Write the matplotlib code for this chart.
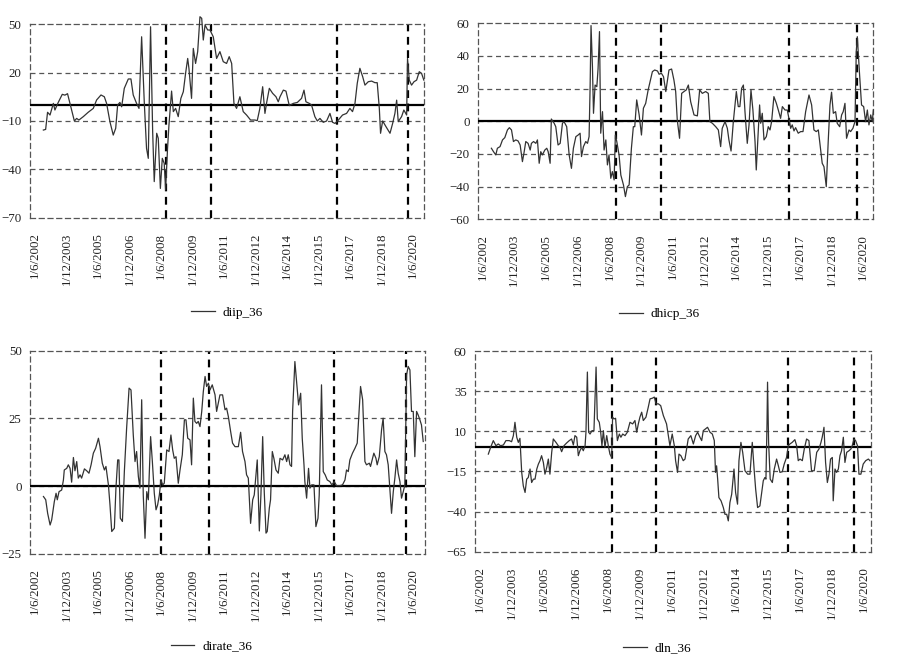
import matplotlib
matplotlib.use("Agg")
import matplotlib.pyplot as plt

plt.rcParams['font.family'] = ['Liberation Serif', 'DejaVu Serif']

# x = month index counted from Jan 2002 (0 = 1/1/2002)
tick_pos = [5 + 18 * i for i in range(13)]
tick_labels = ["1/6/2002", "1/12/2003", "1/6/2005", "1/12/2006", "1/6/2008",
               "1/12/2009", "1/6/2011", "1/12/2012", "1/6/2014", "1/12/2015",
               "1/6/2017", "1/12/2018", "1/6/2020"]

diip_m = [9.8, 11.1, 12.2, 13.6, 15.5, 16.4, 18.3, 20.6, 22.1, 23.6,
          25.0, 26.3, 27.5, 28.8, 30.1, 32.6, 35.4, 38.3, 40.2, 42.7,
          44.6, 45.9, 47.8, 49.7, 51.1, 52.2, 53.5, 54.5, 56.0, 58.3,
          59.8, 61.1, 63.0, 64.4, 65.9, 67.4, 68.7, 69.7, 71.0, 72.2,
          73.1, 74.5, 75.4, 76.6, 77.7, 78.8, 79.6, 80.7, 81.5, 83.0,
          84.0, 85.3, 86.8, 88.3, 89.7, 91.0, 92.2, 92.9, 94.4, 95.4,
          96.7, 97.9, 99.2, 100.2, 101.1, 102.1, 103.6, 104.9, 106.8, 108.7,
          110.6, 112.5, 114.4, 115.9, 117.3, 118.6, 120.1, 122.0, 123.9, 125.8,
          128.1, 130.6, 131.9, 133.4, 135.0, 136.3, 137.2, 138.8, 140.7, 142.6,
          143.9, 144.9, 146.8, 148.3, 150.2, 152.5, 154.8, 157.2, 158.6, 159.7,
          161.6, 162.9, 164.8, 166.2, 167.7, 169.6, 171.5, 173.4, 174.9, 176.3,
          178.2, 180.6, 182.9, 184.8, 186.3, 187.7, 189.0, 190.5, 192.1, 193.4,
          195.3, 197.2, 199.1, 200.4, 201.6, 202.3, 203.5, 205.4, 207.7, 209.2,
          210.5, 211.5, 212.4, 214.3, 215.6, 217.2, 217.7, 218.7, 220.0, 221.4,
          222.9, 224.4, 225.7, 227.0]
diip_v = [-15.6, -15.2, -4.6, -6.3, 0.9, -3.2, 1.5, 6.5, 6.0, 6.9,
          0.9, -4.6, -10.0, -8.4, -9.4, -7.3, -4.6, -2.2, 3.0, 6.1,
          5.0, 0.9, -10.4, -18.7, -14.5, -0.1, 1.5, -1.2, 10.2, 16.0,
          16.0, 6.1, 0.9, -2.2, 42.1, 1.9, -26.9, -33.1, 48.3, -16.6,
          -47.5, -17.6, -20.7, -51.7, -33.1, -36.2, -52.7, -26.9, -12.5, 8.5,
          -4.2, -2.2, -7.3, 4.0, 8.1, 19.5, 28.7, 22.6, 4.0, 34.9,
          25.6, 32.9, 54.5, 53.5, 40.1, 49.4, 46.3, 46.3, 42.1, 28.7,
          32.9, 26.7, 25.6, 29.8, 25.6, 0.9, -2.2, 5.0, -4.2, -6.3,
          -9.4, -9.4, -9.8, -2.2, 11.2, -5.3, 0.9, 10.2, 7.1, 5.0,
          1.9, 5.0, 9.1, 8.5, -0.5, 0.9, 1.5, 4.0, 9.1, 1.9,
          0.9, -0.1, -7.3, -10.0, -8.4, -10.8, -10.0, -5.3, -10.8, -11.5,
          -9.4, -6.3, -5.3, -2.2, -4.2, 0.9, 13.3, 22.6, 17.4, 12.2,
          14.3, 14.7, 13.7, 13.7, -2.2, -17.6, -10.0, -13.5, -17.6, -11.5,
          -5.3, 2.9, -10.4, -7.3, -3.2, -6.3, 28.7, 15.3, 12.2, 14.3,
          15.3, 20.5, 19.5, 15.3]

dhicp_m = [10.1, 11.3, 12.6, 13.5, 15.0, 16.4, 17.7, 19.2, 20.3, 21.5,
           22.6, 23.9, 25.2, 26.4, 27.7, 28.7, 29.6, 30.9, 32.1, 32.8,
           34.0, 35.3, 36.2, 37.2, 38.1, 39.0, 40.4, 41.5, 42.3, 43.4,
           44.1, 45.7, 46.6, 47.9, 49.1, 50.4, 51.3, 52.8, 54.2, 55.5,
           56.6, 58.0, 59.3, 60.4, 61.2, 62.3, 63.6, 64.6, 65.5, 66.1,
           66.6, 67.4, 68.0, 68.9, 69.9, 70.6, 71.4, 72.1, 73.1, 74.0,
           75.0, 75.9, 76.8, 77.8, 78.7, 79.7, 80.4, 81.2, 82.5, 83.5,
           85.0, 86.1, 87.2, 88.2, 89.5, 90.6, 91.4, 92.5, 93.9, 95.2,
           96.3, 97.6, 99.0, 100.1, 101.4, 102.7, 104.3, 105.2, 106.5, 107.7,
           109.0, 110.8, 112.3, 113.6, 114.6, 115.5, 116.8, 118.0, 119.3, 120.6,
           121.8, 123.1, 125.0, 126.9, 128.2, 129.7, 131.6, 133.1, 134.0, 135.4,
           137.3, 138.8, 140.1, 141.0, 142.6, 143.9, 144.8, 146.0, 147.3, 149.0,
           150.1, 151.0, 152.0, 153.0, 153.9, 155.2, 156.2, 157.3, 158.4, 159.6,
           160.3, 161.5, 162.2, 162.8, 163.7, 164.7, 166.0, 167.1, 168.1, 169.0,
           170.3, 171.7, 172.8, 174.1, 175.1, 176.6, 177.9, 178.8, 179.8, 180.7,
           181.7, 182.6, 184.1, 185.5, 186.8, 188.3, 190.2, 191.7, 193.0, 194.3,
           195.5, 196.8, 197.7, 198.7, 200.0, 201.1, 202.1, 203.0, 204.0, 205.3,
           206.2, 207.6, 208.7, 209.6, 210.6, 211.5, 212.9, 213.8, 215.1, 216.3,
           217.0, 217.6, 218.2, 218.9, 220.0, 221.2, 222.3, 223.3, 224.2, 225.2,
           226.1, 226.7]
dhicp_v = [-16.5, -18.6, -20.6, -16.5, -15.5, -11.4, -10.0, -5.3, -3.9, -5.3,
           -12.4, -11.4, -12.0, -14.5, -24.7, -18.6, -12.4, -13.5, -17.6, -13.5,
           -12.4, -13.5, -11.4, -25.7, -18.6, -20.6, -17.6, -16.5, -18.6, -25.7,
           1.4, -1.2, -3.3, -14.5, -13.5, -1.2, -0.2, -3.3, -20.6, -28.8,
           -16.5, -9.4, -8.4, -7.3, -21.6, -15.5, -12.4, -13.5, -9.4, 22.2,
           58.6, 33.5, 4.9, 22.2, 21.2, 32.4, 54.9, -7.3, 5.9, -17.6,
           -11.4, -26.7, -20.6, -34.9, -30.8, -35.9, -8.4, -12.4, -20.6, -32.9,
           -39.0, -46.1, -40.0, -39.0, -16.5, -3.3, -3.3, 13.1, 3.9, -8.4,
           8.0, 11.0, 19.2, 24.3, 30.4, 31.4, 30.8, 28.8, 29.4, 27.3,
           18.2, 31.4, 32.0, 25.3, 18.2, 0.8, -10.4, 17.1, 18.2, 19.2,
           22.2, 12.0, 3.9, 3.3, 19.2, 17.1, 18.2, 17.1, -0.2, -1.2,
           -3.3, -5.3, -15.5, -4.3, -0.2, -4.3, -11.4, -18.2, -0.2, 18.2,
           9.0, 9.0, 20.2, 22.2, 5.9, -13.5, -2.2, 19.2, 6.9, -12.4,
           -29.8, -4.3, 10.0, -1.2, 4.9, -11.4, -9.4, -3.3, -5.3, -0.2,
           15.1, 11.0, 6.9, 1.8, 9.0, 6.9, 6.9, 1.8, -4.3, -2.2,
           -5.9, -3.9, -7.3, -6.3, -6.3, 5.9, 16.1, 10.0, -5.3, -6.3,
           -5.3, -17.6, -25.7, -27.8, -40.0, -12.4, 10.0, 17.8, 4.9, 5.9,
           -1.2, -3.3, 3.9, 5.9, 11.0, -10.4, -5.3, -6.3, -4.3, -0.2,
           42.7, 51.8, 40.6, 28.4, 10.0, 9.0, -0.2, 6.9, -2.2, 3.9,
           -0.2, 6.9]

dirate_m = [9.8, 11.1, 12.2, 13.6, 14.5, 16.0, 17.0, 17.7, 18.7, 20.2,
            21.2, 21.7, 23.1, 24.0, 25.0, 25.9, 26.9, 27.8, 28.8, 29.7,
            30.7, 31.6, 33.2, 34.5, 35.8, 37.0, 38.3, 39.6, 41.2, 42.1,
            43.4, 44.6, 45.5, 46.9, 47.8, 48.8, 50.3, 51.2, 52.2, 52.9,
            53.7, 54.9, 56.0, 57.3, 58.7, 59.8, 61.1, 62.1, 63.0, 64.0,
            64.9, 65.9, 66.8, 67.8, 68.8, 69.7, 71.0, 72.0, 73.1, 74.1,
            75.0, 76.0, 76.9, 77.9, 78.8, 80.2, 81.5, 82.6, 83.6, 84.5,
            85.5, 86.8, 87.8, 89.1, 90.3, 91.2, 92.2, 93.5, 94.4, 95.4,
            96.3, 97.3, 98.2, 99.2, 100.2, 101.1, 102.1, 103.0, 104.0, 104.9,
            106.2, 107.8, 108.7, 110.6, 112.1, 113.5, 114.4, 115.4, 116.7, 117.8,
            119.2, 121.1, 122.4, 123.5, 124.9, 125.8, 126.8, 128.1, 129.3, 130.2,
            131.2, 131.9, 133.1, 134.0, 135.0, 135.9, 136.9, 137.6, 138.8, 139.5,
            140.5, 141.4, 142.6, 143.9, 144.9, 146.4, 147.7, 148.7, 149.6, 150.6,
            151.5, 152.1, 153.4, 154.4, 155.5, 156.7, 157.6, 158.6, 159.1, 160.1,
            161.2, 162.0, 163.0, 164.3, 165.4, 166.6, 167.3, 168.6, 169.6, 170.7,
            171.9, 173.4, 174.5, 175.9, 177.2, 179.1, 180.6, 182.0, 182.9, 183.9,
            184.8, 186.3, 187.7, 189.0, 190.1, 190.9, 192.1, 193.4, 194.3, 195.9,
            196.6, 197.8, 198.5, 199.7, 200.4, 201.6, 202.9, 203.8, 204.8, 205.7,
            206.7, 207.6, 208.6, 209.6, 210.5, 211.5, 212.4, 213.4, 214.3, 215.3,
            216.2, 217.2, 218.1, 219.1, 220.0, 221.0, 221.9, 222.9, 223.8, 224.8,
            225.7, 226.7]
dirate_v = [-3.8, -5.0, -10.0, -14.3, -12.4, -5.7, -2.6, -5.0, -2.0, -1.4,
            2.3, 6.0, 6.6, 7.9, 6.6, 1.5, 10.6, 5.7, 9.1, 3.0,
            4.2, 3.0, 6.4, 5.7, 4.8, 7.9, 12.2, 14.0, 17.7, 14.6,
            8.5, 6.0, 7.3, 0.5, -6.9, -16.7, -15.5, -0.7, 9.7, 9.7,
            -11.8, -13.0, 5.4, 21.4, 36.2, 35.5, 18.9, 9.1, 12.8, 3.6,
            -0.7, 31.9, -3.2, -19.2, -2.0, -5.0, 18.3, 9.1, -2.6, -8.7,
            -6.9, -3.2, 2.3, 0.5, 1.1, 13.4, 12.8, 18.9, 13.4, 10.3,
            10.9, 1.1, 6.0, 11.6, 24.5, 24.5, 17.7, 17.1, 7.9, 32.5,
            23.9, 23.2, 23.9, 22.0, 27.6, 34.9, 40.5, 36.8, 38.0, 35.5,
            37.4, 33.7, 27.6, 33.7, 33.7, 28.2, 28.8, 25.7, 20.2, 15.9,
            14.6, 14.6, 19.9, 12.8, 9.1, 4.2, 3.0, -13.7, -5.0, -3.2,
            4.2, 9.7, -16.5, -3.2, 18.3, -2.0, -17.3, -16.7, -8.1, -5.0,
            12.8, 10.3, 6.0, 4.8, 10.3, 9.7, 11.6, 9.1, 11.6, 7.9,
            7.3, 27.6, 46.0, 38.6, 30.0, 34.3, 17.7, 7.9, 1.7, -4.4,
            6.6, -0.7, 0.5, 0.5, -14.9, -11.8, -3.2, 37.4, 5.4, 4.2,
            2.3, 1.7, 0.5, 1.7, 0.2, 0.2, 0.5, 2.3, 6.0, 5.4,
            9.7, 12.2, 14.0, 15.9, 28.2, 36.8, 31.9, 9.1, 7.9, 8.5,
            7.3, 10.3, 12.2, 10.3, 7.9, 10.9, 20.8, 25.1, 12.8, 11.6,
            7.9, -0.7, -10.0, -2.0, 3.0, 9.7, 4.8, 1.7, -4.4, -2.0,
            0.5, 41.1, 44.2, 42.9, 27.6, 27.6, 10.9, 27.6, 26.3, 24.5,
            22.6, 16.5]

dln_m = [9.7, 11.0, 12.5, 14.0, 15.3, 16.6, 18.2, 19.6, 21.5, 22.8,
         23.8, 24.7, 25.7, 26.6, 27.5, 28.5, 29.4, 30.4, 31.3, 32.2,
         33.2, 34.1, 35.1, 36.0, 37.0, 37.9, 38.8, 39.7, 40.7, 41.6,
         42.6, 43.5, 44.4, 45.4, 46.3, 47.8, 49.1, 50.1, 51.0, 52.3,
         53.8, 55.3, 56.6, 57.6, 58.5, 59.5, 60.4, 61.3, 62.3, 63.2,
         64.2, 64.7, 65.5, 66.2, 67.0, 68.1, 69.2, 70.4, 71.1, 72.2,
         73.0, 73.7, 74.5, 75.4, 76.4, 77.3, 78.2, 79.2, 79.7, 80.5,
         81.4, 82.4, 83.5, 84.4, 85.4, 86.7, 88.0, 89.5, 91.0, 92.3,
         93.3, 94.2, 95.1, 96.1, 97.0, 98.5, 99.8, 100.8, 102.1, 103.2,
         104.2, 105.5, 106.8, 108.3, 110.1, 111.1, 112.0, 113.3, 114.5, 115.2,
         116.3, 117.1, 118.2, 119.5, 120.5, 121.4, 122.3, 123.8, 125.2, 126.5,
         127.6, 128.9, 129.9, 130.8, 132.1, 133.2, 134.6, 135.9, 137.0, 137.7,
         138.3, 138.9, 139.6, 140.8, 142.1, 143.0, 144.0, 144.9, 145.8, 146.8,
         148.1, 149.0, 150.1, 150.9, 152.0, 153.0, 154.3, 155.8, 157.1, 158.4,
         159.5, 160.3, 161.4, 162.7, 163.7, 164.6, 165.5, 166.1, 166.7, 167.0,
         167.6, 168.5, 169.7, 170.8, 172.1, 173.1, 174.0, 175.3, 176.4, 177.7,
         178.7, 179.6, 180.9, 182.4, 183.4, 184.3, 185.3, 186.6, 187.7, 189.0,
         190.3, 191.8, 193.3, 194.7, 196.0, 197.1, 197.8, 198.8, 199.7, 200.7,
         201.6, 202.5, 203.5, 204.0, 205.0, 205.9, 206.9, 207.8, 208.7, 209.7,
         210.6, 211.6, 212.9, 214.0, 214.7, 215.7, 216.6, 217.7, 218.5, 219.6,
         220.9, 222.3, 223.8, 224.7]
dln_v = [-4.2, 0.0, 4.2, 1.0, 2.1, 1.0, 1.5, 4.2, 4.2, 3.5,
         7.3, 15.6, 6.3, 3.1, 5.6, -15.6, -24.0, -28.1, -19.8, -18.8,
         -13.5, -21.9, -19.8, -19.8, -13.5, -10.4, -8.3, -5.2, -9.4, -16.7,
         -12.5, -7.3, -16.7, -3.1, 5.2, 3.1, 1.0, 0.0, -2.7, 1.0,
         2.7, 4.2, 5.2, 1.5, 7.3, 6.3, -5.2, -2.1, 0.0, -2.1,
         1.0, 9.4, 46.9, 9.4, 8.3, 10.4, 10.4, 50.0, 17.7, 15.6,
         9.4, 1.0, 10.4, 0.0, 7.3, 1.0, -4.2, -6.3, 18.8, 17.7,
         18.1, 4.2, 8.3, 6.3, 8.3, 7.3, 9.4, 15.6, 14.6, 16.7,
         9.4, 14.6, 18.8, 21.9, 16.7, 18.8, 25.0, 30.2, 30.6, 31.3,
         27.1, 27.1, 26.0, 19.8, 14.6, 7.3, 1.0, 8.3, 1.0, -8.3,
         -15.6, -4.2, -5.2, -8.3, -7.3, -1.0, 5.2, 7.3, 2.1, 7.3,
         9.4, 6.3, 4.2, 10.4, 11.5, 12.5, 9.4, 8.3, 4.2, -15.6,
         -11.5, -19.8, -31.3, -33.3, -37.5, -41.7, -41.7, -45.8, -34.4, -29.2,
         -13.5, -28.1, -35.4, -8.3, 3.1, -3.1, -14.6, -16.7, -16.7, 3.1,
         -14.6, -26.0, -37.5, -36.5, -28.1, -20.8, -18.8, -19.8, 14.6, 40.6,
         3.1, -19.8, -21.9, -13.5, -7.3, -11.5, -15.6, -15.2, -10.4, -6.3,
         1.0, 2.1, 3.1, 4.8, 1.0, -8.3, -7.3, -8.3, -1.0, 5.2,
         4.2, -14.6, -14.6, -3.1, -1.0, 3.1, 6.3, 12.5, -9.4, -21.9,
         -16.7, -7.3, -6.3, -33.3, -13.5, -15.6, -13.5, -5.2, -2.1, 6.3,
         -9.4, -3.1, -2.1, -1.0, 1.0, 5.2, 4.2, 1.0, -16.7, -16.7,
         -10.4, -8.3, -7.3, -8.3]

# break dates (dashed vertical lines), month index
diip_breaks = [79.8, 105.5, 177.6, 217.8]
dhicp_breaks = [80.6, 106.1, 178.8, 217.6]
dirate_breaks = [76.9, 104.3, 175.9, 216.6]
dln_breaks = [79.5, 104.0, 178.7, 215.9]

diip_yticks = [-70, -40, -10, 20, 50]
dhicp_yticks = [-60, -40, -20, 0, 20, 40, 60]
dirate_yticks = [-25, 0, 25, 50]
dln_yticks = [-65, -40, -15, 10, 35, 60]

panels = [
    ("diip_36", diip_m, diip_v, diip_breaks, diip_yticks,
     [0.0328, 0.6677, 0.4383, 0.2957], (1.9, 227.1), (0.252, 0.523)),
    ("dhicp_36", dhicp_m, dhicp_v, dhicp_breaks, dhicp_yticks,
     [0.5311, 0.6657, 0.4389, 0.2988], (2.5, 226.5), (0.733, 0.521)),
    ("dirate_36", dirate_m, dirate_v, dirate_breaks, dirate_yticks,
     [0.0333, 0.1555, 0.4389, 0.3099], (2.1, 227.7), (0.235, 0.015)),
    ("dln_36", dln_m, dln_v, dln_breaks, dln_yticks,
     [0.5278, 0.1590, 0.4400, 0.3059], (2.2, 225.3), (0.730, 0.012)),
]

grid_col = "#555555"
fig = plt.figure(figsize=(9, 6.56), dpi=100)

for name, xm, yv, breaks, yt, pos, xl, leg in panels:
    ax = fig.add_axes(pos)
    ax.set_xlim(*xl)
    ax.set_ylim(yt[0], yt[-1])

    # dashed frame and horizontal grid
    for s in ax.spines.values():
        s.set_linestyle((0, (4, 3)))
        s.set_linewidth(0.9)
        s.set_color(grid_col)
    for y in yt[1:-1]:
        ax.axhline(y, color=grid_col, lw=0.9, dashes=(4, 3), zorder=1)

    for b in breaks:
        ax.axvline(b, color="black", lw=1.6, dashes=(3.5, 2.5), zorder=2)
    ax.axhline(0, color="black", lw=1.6, zorder=3)

    ax.plot(xm, yv, color="#333333", lw=0.9, label=name, zorder=4, clip_on=False)

    ax.set_xticks(tick_pos)
    ax.set_xticklabels(tick_labels, rotation=90)
    ax.set_yticks(yt)
    ax.tick_params(axis="both", length=0, labelsize=9.3, colors="#222222")
    ax.tick_params(axis="x", pad=10.5)
    ax.tick_params(axis="y", pad=6)

    ax.legend(loc="center", bbox_to_anchor=leg, bbox_transform=fig.transFigure,
              frameon=False, fontsize=9.5, handlelength=1.8, handletextpad=0.6)

fig.savefig("out.png", dpi=100)
